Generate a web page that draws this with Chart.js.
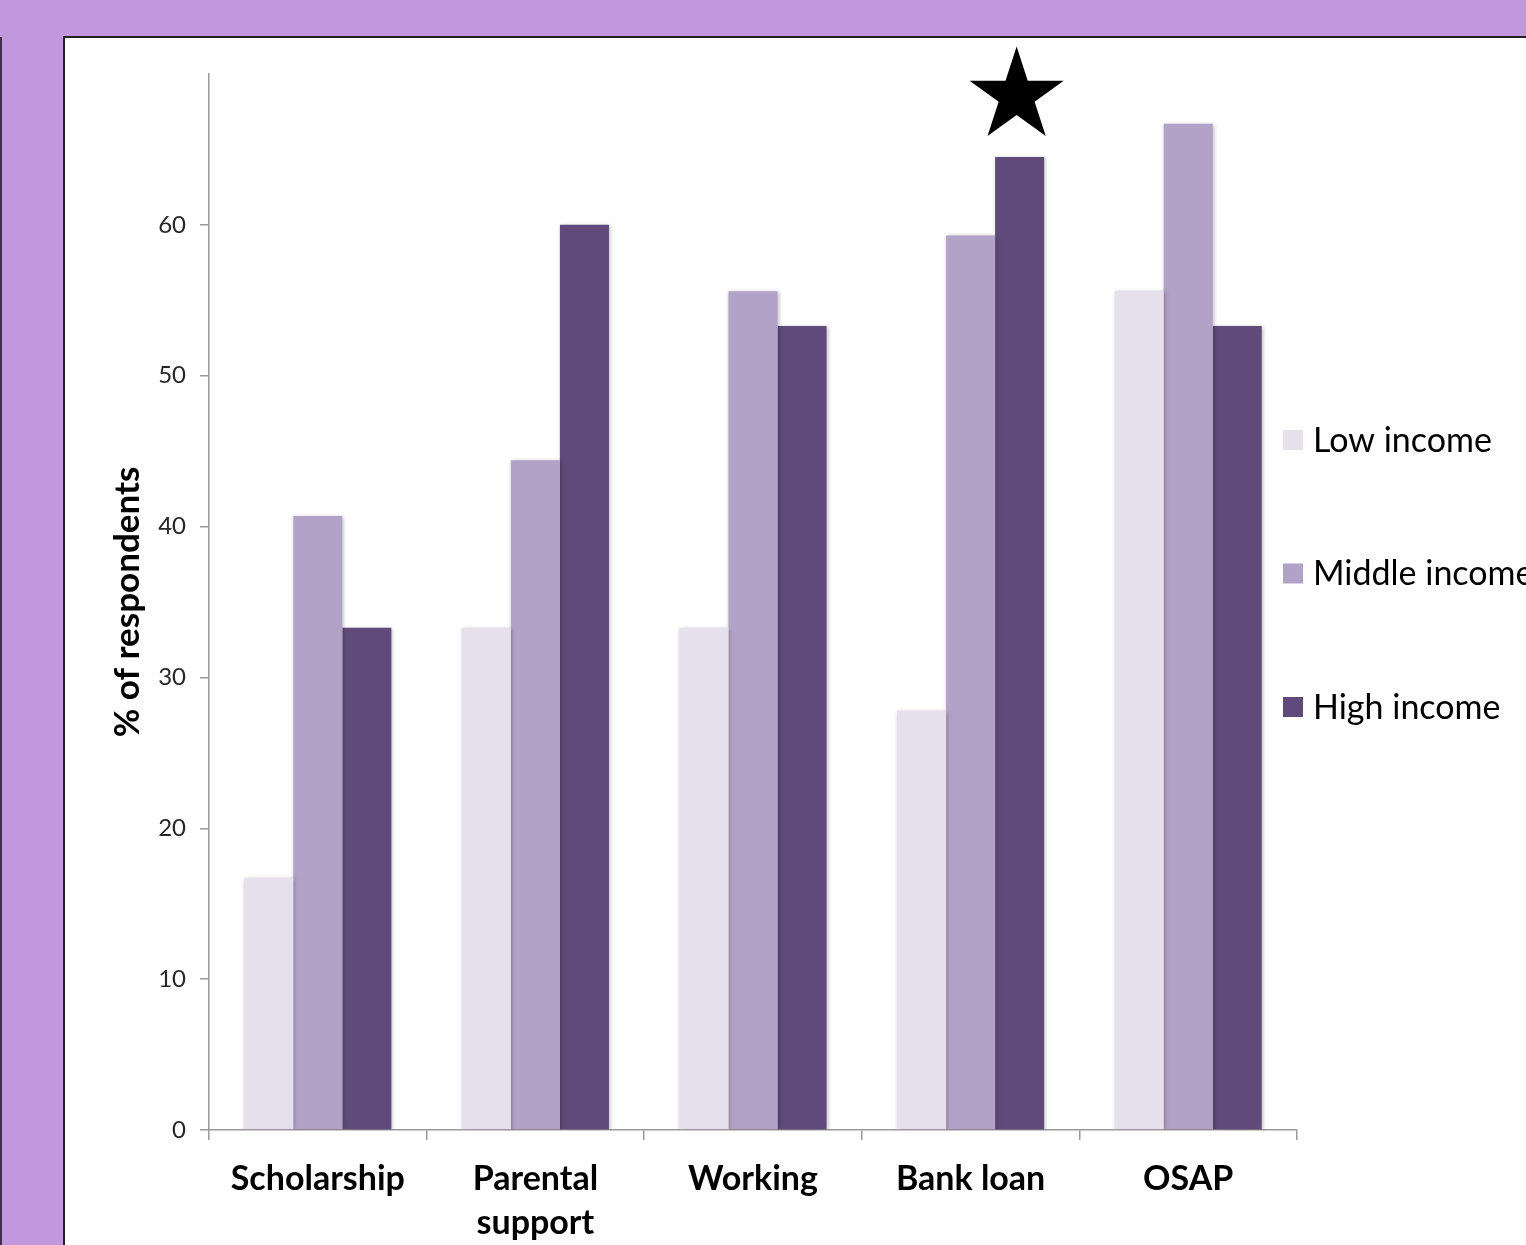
<!DOCTYPE html>
<html>
<head>
<meta charset="utf-8">
<title>Funding sources by income</title>
<script src="https://cdn.jsdelivr.net/npm/chart.js@4.4.1/dist/chart.umd.min.js"></script>
<style>
  html, body { margin: 0; padding: 0; }
  body { width: 1526px; height: 1245px; background: #c198de; position: relative; overflow: hidden; }
  #edge { position: absolute; left: 0; top: 37px; bottom: 0; width: 2px; background: #3b3344; }
  #panel { position: absolute; left: 63px; top: 36px; right: -10px; bottom: -10px; background: #fff;
           border-left: 2px solid #222; border-top: 2px solid #222; }
  #wrap { position: absolute; left: 0; top: 0; }
</style>
</head>
<body>
<div id="edge"></div>
<div id="panel"></div>
<div id="wrap"><canvas id="fundingChart" width="1526" height="1245"></canvas></div>
<script>
// Funding sources, % of respondents per income group
const categories = ['Scholarship', ['Parental', 'support'], 'Working', 'Bank loan', 'OSAP'];
const seriesNames = ['Low income', 'Middle income', 'High income'];
const lowIncome = [16.7, 33.3, 33.3, 27.8, 55.6];
const middleIncome = [40.7, 44.4, 55.6, 59.3, 66.7];
const highIncome = [33.3, 60.0, 53.3, 64.5, 53.3];
const seriesColors = ['#e5e0ec', '#b3a2c7', '#604a7b'];
const yTicks = [0, 10, 20, 30, 40, 50, 60];
const starredIndex = 3; // Bank loan, high income

const FONT = 'Lato, "Open Sans", sans-serif';
const AXIS_GRAY = '#999999';

// soft drop shadow under the bars + star marker over the flagged bar
const barDecor = {
  id: 'barDecor',
  beforeDatasetsDraw(chart) {
    const ctx = chart.ctx;
    ctx.save();
    ctx.shadowColor = 'rgba(0,0,0,0.28)';
    ctx.shadowBlur = 4;
    ctx.shadowOffsetX = 1;
    ctx.shadowOffsetY = 1;
  },
  afterDatasetsDraw(chart) {
    const ctx = chart.ctx;
    ctx.restore();
    const bar = chart.getDatasetMeta(2).data[starredIndex];
    const cx = bar.x - 3, cy = bar.y - 61;
    const R = 49.5, r = R * 0.382;
    ctx.save();
    ctx.beginPath();
    for (let i = 0; i < 10; i++) {
      const a = -Math.PI / 2 + i * Math.PI / 5;
      const rad = i % 2 ? r : R;
      ctx.lineTo(cx + rad * Math.cos(a), cy + rad * Math.sin(a));
    }
    ctx.closePath();
    ctx.fillStyle = '#000';
    ctx.fill();
    ctx.restore();
  }
};

// legend on the right, squares + names, evenly spaced
const sideLegend = {
  id: 'sideLegend',
  afterDraw(chart) {
    const ctx = chart.ctx;
    const area = chart.chartArea;
    ctx.save();
    ctx.font = '34px ' + FONT;
    ctx.textBaseline = 'middle';
    ctx.textAlign = 'left';
    chart.data.datasets.forEach((ds, i) => {
      const y = area.top + 366 + i * 133.5;
      const x = area.right - 14;
      ctx.fillStyle = ds.backgroundColor;
      ctx.fillRect(x, y - 10, 20, 20);
      ctx.fillStyle = '#000';
      ctx.fillText(ds.label, x + 30, y + 1);
    });
    ctx.restore();
  }
};

const ctx = document.getElementById('fundingChart').getContext('2d');
const data = [lowIncome, middleIncome, highIncome];

new Chart(ctx, {
  type: 'bar',
  data: {
    labels: categories,
    datasets: seriesNames.map((name, i) => ({
      label: name,
      data: data[i],
      backgroundColor: seriesColors[i],
      borderWidth: 0,
      barPercentage: 1.0,
      categoryPercentage: 0.676
    }))
  },
  options: {
    responsive: false,
    animation: false,
    layout: { padding: { left: 63, top: 74, right: 229, bottom: 0 } },
    plugins: {
      legend: { display: false },
      tooltip: { enabled: false }
    },
    scales: {
      x: {
        offset: true,
        grid: { offset: true, drawOnChartArea: false, tickLength: 10, color: AXIS_GRAY, lineWidth: 1.5 },
        border: { color: AXIS_GRAY, width: 1.5 },
        ticks: {
          color: '#000',
          font: { family: FONT, size: 34, weight: 'bold', lineHeight: 1.3 },
          padding: 17,
          maxRotation: 0,
          autoSkip: false
        },
        afterFit: scale => { scale.height = 115; }
      },
      y: {
        min: 0,
        max: 70,
        afterBuildTicks: scale => {
          scale.ticks = yTicks.concat([70]).map(v => ({ value: v }));
        },
        ticks: {
          callback: v => (yTicks.includes(v) ? v : ''),
          color: '#262626',
          font: { family: FONT, size: 24 },
          padding: 14
        },
        grid: {
          drawOnChartArea: false,
          tickLength: 9,
          lineWidth: 1.5,
          color: c => (c.tick && !yTicks.includes(c.tick.value) ? 'rgba(0,0,0,0)' : AXIS_GRAY)
        },
        border: { color: AXIS_GRAY, width: 1.5 },
        title: {
          display: true,
          text: '% of respondents',
          color: '#000',
          font: { family: FONT, size: 35, weight: 'bold' },
          padding: { top: 44, bottom: 0 }
        },
        afterFit: scale => { scale.width = 146; }
      }
    }
  },
  plugins: [barDecor, sideLegend]
});
</script>
</body>
</html>
